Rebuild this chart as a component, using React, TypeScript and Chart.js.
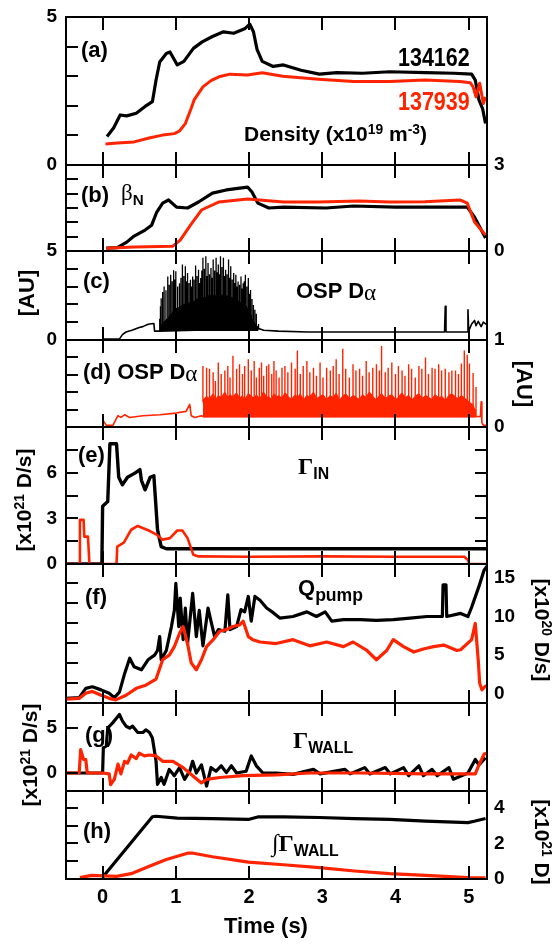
import React, { useEffect, useRef } from 'react';
import { Chart, registerables } from 'chart.js';

Chart.register(...registerables);

const W = 556;
const H = 945;
const PLOT_LEFT = 66;
const PLOT_RIGHT = 487;
const PAD = 24;
const BLACK = '#000000';
const RED = '#ff2400';
const SANS = "'Liberation Sans Narrow', 'Arial Narrow', 'Liberation Sans', Arial, sans-serif";
const SERIF = "'Liberation Serif', 'DejaVu Serif', serif";
const X_MIN = -0.5;
const X_MAX = 5.25;

// ---------------- data ----------------
const xTickValues = [0, 1, 2, 3, 4, 5];

// (a) density, 134162 (black) and 137939 (red)
const aBlackT = [0.06, 0.15, 0.24, 0.33, 0.46, 0.58, 0.68, 0.73, 0.78, 0.87, 0.92, 1.02, 1.11, 1.24, 1.36, 1.5, 1.65, 1.79, 1.94, 2.01, 2.06, 2.11, 2.18, 2.33, 2.47, 2.71, 2.96, 3.2, 3.55, 3.92, 4.41, 4.8, 5.04, 5.09, 5.14, 5.19, 5.23];
const aBlackV = [0.96, 1.25, 1.69, 1.66, 1.75, 1.98, 2.14, 2.87, 3.48, 3.77, 3.82, 3.38, 3.5, 3.94, 4.16, 4.34, 4.5, 4.45, 4.6, 4.76, 4.5, 3.9, 3.5, 3.33, 3.38, 3.2, 3.07, 3.12, 3.1, 3.15, 3.12, 3.1, 3.07, 2.87, 2.2, 1.9, 1.4];
const aRedT = [0.04, 0.2, 0.43, 0.65, 0.82, 0.98, 1.05, 1.13, 1.2, 1.25, 1.37, 1.48, 1.59, 1.74, 1.98, 2.18, 2.46, 2.95, 3.43, 3.92, 4.4, 4.88, 5.02, 5.06, 5.1, 5.15, 5.2, 5.23];
const aRedV = [0.71, 0.74, 0.78, 0.92, 1.01, 1.06, 1.15, 1.4, 1.85, 2.2, 2.64, 2.85, 2.98, 3.07, 3.04, 3.12, 3.0, 2.9, 2.82, 2.82, 2.87, 2.82, 2.78, 2.64, 2.3, 2.76, 2.08, 2.3];
const aLabelsL = [0, 5];
const aMarks = [1, 2, 3, 4];

// (b) beta_N
const bBlackT = [0.05, 0.2, 0.33, 0.43, 0.58, 0.67, 0.74, 0.82, 0.9, 1.01, 1.16, 1.31, 1.5, 1.69, 1.98, 2.04, 2.12, 2.27, 2.47, 3.05, 3.43, 4.0, 4.4, 4.98, 5.08, 5.23];
const bBlackV = [0.1, 0.12, 0.31, 0.52, 0.73, 0.9, 1.36, 1.67, 1.78, 1.53, 1.5, 1.71, 2.02, 2.13, 2.23, 2.06, 1.67, 1.5, 1.53, 1.5, 1.57, 1.53, 1.53, 1.53, 1.18, 0.45];
const bRedT = [0.05, 0.43, 0.96, 1.06, 1.2, 1.35, 1.59, 1.98, 2.47, 2.95, 3.5, 3.92, 4.4, 4.88, 4.98, 5.08, 5.23];
const bRedV = [0.1, 0.14, 0.17, 0.38, 0.9, 1.43, 1.71, 1.81, 1.71, 1.71, 1.74, 1.71, 1.72, 1.78, 1.67, 1.01, 0.56];
const bLabelsR = [0, 3];
const bMarks = [0.5, 1, 1.5, 2, 2.5];

// (c) OSP D-alpha, 134162
const cLineT = [0.0, 0.23, 0.27, 0.32, 0.4, 0.5, 0.55, 0.6, 0.64, 0.7, 0.71, 0.77, 2.13, 2.2, 2.4, 2.8, 3.2, 3.6, 4.0, 4.4, 4.67, 4.68, 4.69, 4.98, 4.99, 5.0, 5.04, 5.08, 5.1, 5.13, 5.17, 5.2, 5.25];
const cLineV = [0.05, 0.05, 0.3, 0.45, 0.55, 0.7, 0.75, 0.85, 0.9, 0.93, 0.5, 0.5, 0.65, 0.55, 0.5, 0.45, 0.45, 0.45, 0.45, 0.45, 0.45, 1.9, 0.45, 0.45, 1.7, 0.5, 0.9, 1.1, 0.8, 1.05, 0.75, 1.0, 0.85];
const cElmT = [0.78, 0.79, 0.8, 0.82, 0.84, 0.865, 0.89, 0.91, 0.93, 0.95, 0.97, 0.985, 1.0, 1.025, 1.05, 1.07, 1.09, 1.11, 1.13, 1.145, 1.16, 1.18, 1.2, 1.215, 1.23, 1.25, 1.27, 1.29, 1.31, 1.325, 1.34, 1.355, 1.37, 1.39, 1.41, 1.425, 1.44, 1.46, 1.48, 1.495, 1.51, 1.53, 1.55, 1.565, 1.58, 1.595, 1.61, 1.63, 1.65, 1.665, 1.68, 1.7, 1.72, 1.735, 1.75, 1.77, 1.79, 1.805, 1.82, 1.835, 1.85, 1.87, 1.89, 1.905, 1.92, 1.935, 1.95, 1.97, 1.99, 2.005, 2.02, 2.04, 2.06, 2.08, 2.1, 2.13];
const cElmPeak = [1.2, 1.9, 2.34, 2.7, 3.0, 2.8, 3.57, 3.1, 3.67, 3.3, 3.92, 3.4, 3.86, 3.0, 3.19, 3.5, 4.24, 3.6, 4.14, 3.3, 3.76, 3.2, 3.38, 3.0, 3.57, 3.4, 4.18, 3.6, 3.95, 3.2, 3.48, 3.9, 4.62, 4.0, 4.71, 3.6, 4.33, 3.7, 4.05, 3.5, 4.52, 3.9, 4.62, 3.8, 4.24, 3.7, 4.71, 4.1, 4.62, 3.6, 3.95, 3.7, 4.52, 3.5, 4.14, 3.4, 3.76, 3.2, 3.67, 3.0, 3.29, 3.1, 3.57, 2.9, 3.19, 3.3, 3.67, 3.0, 3.48, 2.6, 2.81, 2.3, 1.96, 1.7, 1.48, 0.9];
const cElmBase = [0.6, 0.7, 0.8, 0.9, 1.0, 1.1, 1.2, 1.3, 1.4, 1.5, 1.6, 1.6, 1.7, 1.8, 1.8, 1.9, 1.9, 2.0, 2.0, 2.1, 2.1, 2.0, 2.1, 2.2, 2.2, 2.1, 2.2, 2.3, 2.3, 2.2, 2.3, 2.4, 2.4, 2.3, 2.4, 2.5, 2.4, 2.5, 2.4, 2.5, 2.5, 2.4, 2.5, 2.5, 2.5, 2.4, 2.5, 2.5, 2.5, 2.4, 2.5, 2.4, 2.5, 2.4, 2.4, 2.3, 2.4, 2.3, 2.3, 2.2, 2.2, 2.1, 2.1, 2.0, 2.0, 1.9, 1.9, 1.8, 1.7, 1.5, 1.4, 1.2, 1.0, 0.9, 0.8, 0.65];
const cLabelsL = [0, 5];
const cMarks = [1, 2, 3, 4];

// (d) OSP D-alpha, 137939
const dLineT = [0.0, 0.01, 0.05, 0.14, 0.21, 0.25, 0.3, 0.37, 0.55, 0.78, 1.0, 1.14, 1.19, 1.21, 1.26, 1.35, 1.37, 5.1, 5.12, 5.16, 5.17, 5.18, 5.2, 5.25];
const dLineV = [0.0, 0.07, 0.02, 0.02, 0.13, 0.11, 0.14, 0.11, 0.13, 0.14, 0.16, 0.18, 0.26, 0.13, 0.11, 0.13, 0.12, 0.12, 0.12, 0.12, 0.29, 0.05, 0.02, 0.02];
const dElmT = [1.37, 1.42, 1.46, 1.51, 1.54, 1.58, 1.62, 1.67, 1.71, 1.74, 1.78, 1.83, 1.87, 1.91, 1.94, 1.99, 2.03, 2.07, 2.1, 2.14, 2.17, 2.2, 2.24, 2.27, 2.31, 2.34, 2.37, 2.41, 2.45, 2.49, 2.53, 2.58, 2.63, 2.66, 2.7, 2.74, 2.79, 2.83, 2.88, 2.92, 2.97, 3.01, 3.06, 3.11, 3.15, 3.19, 3.23, 3.28, 3.32, 3.37, 3.42, 3.46, 3.51, 3.55, 3.6, 3.64, 3.69, 3.74, 3.78, 3.81, 3.86, 3.9, 3.95, 4.0, 4.04, 4.09, 4.13, 4.18, 4.22, 4.27, 4.32, 4.36, 4.41, 4.45, 4.5, 4.54, 4.59, 4.63, 4.68, 4.73, 4.77, 4.82, 4.86, 4.9, 4.94, 4.98, 5.01, 5.06, 5.1];
const dElmPeak = [0.7, 0.68, 0.67, 0.63, 0.53, 0.74, 0.61, 0.65, 0.7, 0.57, 0.82, 0.67, 0.72, 0.61, 0.7, 0.78, 0.65, 0.76, 0.57, 0.68, 0.74, 0.59, 0.7, 0.72, 0.61, 0.76, 0.65, 0.57, 0.68, 0.7, 0.63, 0.74, 0.67, 0.88, 0.61, 0.7, 0.76, 0.63, 0.68, 0.59, 0.74, 0.57, 0.68, 0.65, 0.7, 0.78, 0.61, 0.9, 0.67, 0.57, 0.72, 0.65, 0.67, 0.59, 0.76, 0.63, 0.68, 0.72, 0.65, 0.93, 0.63, 0.68, 0.74, 0.61, 0.7, 0.65, 0.59, 0.72, 0.67, 0.57, 0.7, 0.67, 0.8, 0.61, 0.68, 0.67, 0.72, 0.65, 0.67, 0.63, 0.65, 0.65, 0.61, 0.73, 0.88, 0.83, 0.73, 0.62, 0.46];
const dElmBase = [0.3, 0.35, 0.32, 0.38, 0.3, 0.36, 0.33, 0.4, 0.31, 0.37, 0.34, 0.39, 0.32, 0.36, 0.3, 0.38, 0.35, 0.33, 0.37, 0.31, 0.36, 0.4, 0.33, 0.35, 0.3, 0.38, 0.34, 0.36, 0.32, 0.39, 0.35, 0.31, 0.37, 0.33, 0.38, 0.3, 0.36, 0.34, 0.4, 0.32, 0.35, 0.37, 0.31, 0.36, 0.33, 0.39, 0.3, 0.35, 0.38, 0.32, 0.36, 0.34, 0.31, 0.37, 0.33, 0.4, 0.35, 0.3, 0.36, 0.38, 0.32, 0.35, 0.37, 0.31, 0.34, 0.39, 0.33, 0.36, 0.3, 0.35, 0.38, 0.32, 0.36, 0.34, 0.31, 0.37, 0.33, 0.35, 0.3, 0.36, 0.38, 0.34, 0.32, 0.36, 0.33, 0.3, 0.28, 0.25, 0.15];
const dLabelsR = [0, 1];
const dMarks = [0.2, 0.4, 0.6, 0.8];

// (e) Gamma_IN
const eBlackT = [-0.5, -0.01, 0.0, 0.07, 0.1, 0.19, 0.22, 0.27, 0.34, 0.44, 0.51, 0.53, 0.58, 0.65, 0.7, 0.75, 0.8, 0.87, 2.0, 3.0, 4.0, 5.25];
const eBlackV = [0, 0, 3.8, 4.1, 7.9, 7.9, 5.7, 5.2, 5.7, 5.97, 6.2, 5.5, 4.87, 5.7, 5.8, 2.24, 1.14, 1.0, 1.0, 1.0, 1.0, 1.0];
const eRedT = [-0.5, -0.32, -0.31, -0.26, -0.25, -0.2, -0.18, 0.19, 0.2, 0.29, 0.39, 0.48, 0.63, 0.73, 0.82, 0.92, 1.02, 1.09, 1.16, 1.24, 1.31, 2.0, 3.0, 4.0, 4.94, 4.99, 5.01, 5.25];
const eRedV = [0, 0, 2.9, 2.9, 1.8, 1.8, 0, 0, 1.14, 1.4, 2.25, 2.5, 2.2, 1.95, 1.6, 1.7, 2.2, 2.2, 1.7, 0.6, 0.5, 0.48, 0.5, 0.48, 0.48, 0.26, 0, 0];
const eLabelsL = [0, 3, 6];
const eMarks = [1.5, 3, 4.5, 6, 7.5];

// (f) Q_pump
const fBlackT = [-0.5, -0.32, -0.23, -0.14, -0.02, 0.09, 0.16, 0.23, 0.3, 0.37, 0.43, 0.53, 0.62, 0.71, 0.75, 0.78, 0.8, 0.87, 0.94, 0.98, 1.0, 1.04, 1.06, 1.1, 1.13, 1.16, 1.23, 1.28, 1.32, 1.37, 1.44, 1.48, 1.53, 1.58, 1.67, 1.71, 1.74, 1.83, 1.89, 1.94, 1.99, 2.03, 2.08, 2.15, 2.24, 2.33, 2.42, 2.6, 2.79, 2.92, 3.04, 3.13, 3.29, 3.52, 3.74, 3.97, 4.2, 4.43, 4.61, 4.64, 4.65, 4.69, 4.7, 4.89, 4.99, 5.04, 5.14, 5.21, 5.25];
const fBlackV = [-0.6, -0.5, 0.7, 0.9, 0.5, 0.07, -0.5, 0.2, 2.6, 4.6, 3.5, 3.1, 4.4, 5.0, 5.6, 7.4, 4.4, 5.6, 8.7, 10.8, 14.3, 8.7, 12.4, 7.0, 11.1, 6.5, 13.0, 7.4, 10.8, 6.2, 11.1, 9.4, 7.4, 8.3, 8.1, 12.8, 8.3, 8.7, 10.9, 10.6, 12.6, 9.4, 12.6, 12.1, 11.1, 10.5, 9.8, 10.0, 10.6, 10.0, 10.6, 9.4, 9.6, 9.6, 9.5, 9.6, 9.8, 10.0, 10.0, 10.0, 14.1, 14.1, 10.0, 10.4, 10.0, 11.2, 13.9, 16.0, 16.5];
const fRedT = [-0.5, -0.32, -0.23, -0.14, -0.02, 0.09, 0.18, 0.32, 0.46, 0.59, 0.73, 0.82, 0.91, 0.98, 1.05, 1.1, 1.16, 1.21, 1.28, 1.35, 1.42, 1.51, 1.6, 1.69, 1.78, 1.87, 1.92, 1.99, 2.05, 2.15, 2.37, 2.6, 2.83, 3.06, 3.29, 3.42, 3.61, 3.74, 3.88, 3.97, 4.11, 4.25, 4.38, 4.52, 4.66, 4.84, 4.89, 5.04, 5.09, 5.13, 5.15, 5.18, 5.23, 5.25];
const fRedV = [-0.7, -0.6, 0.07, 0.3, -0.2, -0.6, -0.8, -0.2, 0.7, 1.1, 1.9, 4.4, 5.0, 6.1, 7.8, 8.7, 6.5, 4.0, 3.1, 4.4, 6.1, 7.0, 8.1, 8.3, 8.7, 8.9, 9.4, 7.4, 7.0, 6.7, 6.5, 7.0, 6.2, 6.7, 6.1, 6.7, 5.6, 4.4, 5.6, 7.0, 6.1, 5.4, 5.8, 6.1, 6.3, 5.6, 5.7, 7.0, 9.1, 4.4, 1.4, 0.5, 1.0, 1.0];
const fLabelsR = [0, 5, 10, 15];
const fMarks = [1.4, 4.0, 6.6, 9.2, 11.8, 14.3];

// (g) Gamma_WALL
const gBlackT = [-0.5, 0.0, 0.01, 0.05, 0.07, 0.14, 0.18, 0.23, 0.27, 0.32, 0.37, 0.41, 0.48, 0.55, 0.59, 0.64, 0.68, 0.73, 0.75, 0.8, 0.84, 0.91, 0.98, 1.05, 1.12, 1.19, 1.23, 1.28, 1.35, 1.42, 1.48, 1.55, 1.62, 1.69, 1.76, 1.83, 1.96, 2.03, 2.1, 2.19, 2.37, 2.6, 2.88, 2.97, 3.31, 3.38, 3.58, 3.65, 3.86, 3.93, 4.11, 4.18, 4.32, 4.38, 4.5, 4.57, 4.73, 4.79, 4.99, 5.09, 5.14, 5.23];
const gBlackV = [0, 0, 2.8, 3.0, 5.0, 5.6, 6.0, 6.5, 5.8, 5.2, 5.0, 5.2, 4.5, 4.5, 4.8, 4.5, 3.9, 1.3, -1.26, -0.5, -1.26, 0.4, -0.3, 0.6, -0.7, 0.2, 1.3, 0.0, 0.9, -1.45, 0.6, 0.2, 0.8, 0.04, 0.8, 0.0, 0.2, 1.9, 0.8, 0.0, 0.0, -0.15, 0.4, -0.1, 0.4, -0.1, 0.6, -0.1, 0.6, -0.1, 0.6, -0.3, 0.8, -0.3, 0.4, -0.3, 0.6, -0.7, 0.0, 1.5, 0.9, 1.7];
const gRedT = [-0.5, -0.32, -0.3, -0.26, -0.23, -0.21, 0.0, 0.09, 0.11, 0.16, 0.21, 0.25, 0.3, 0.34, 0.39, 0.46, 0.5, 0.57, 0.64, 0.73, 0.82, 0.96, 1.1, 1.23, 1.35, 1.42, 1.6, 1.92, 2.37, 2.83, 3.52, 4.43, 4.89, 5.09, 5.14, 5.21, 5.25];
const gRedV = [0, 0, 2.6, 1.5, 1.5, 0, 0, -0.1, -1.3, -0.7, 1.0, -0.1, 1.3, 1.1, 2.0, 1.6, 2.2, 1.9, 2.0, 1.9, 1.3, 1.3, 0.6, -0.3, -1.1, -0.7, -0.5, -0.3, -0.2, 0.0, 0.0, -0.1, -0.1, -0.1, 0.9, 2.1, 2.2];
const gLabelsL = [0, 5];
const gMarks = [0, 5];

// (h) integral of Gamma_WALL
const hBlackT = [0.0, 0.68, 0.73, 1.02, 1.5, 1.99, 2.13, 2.47, 2.96, 3.44, 3.92, 4.41, 4.99, 5.09, 5.23];
const hBlackV = [0.1, 3.5, 3.53, 3.42, 3.4, 3.35, 3.5, 3.5, 3.46, 3.4, 3.35, 3.26, 3.17, 3.26, 3.4];
const hRedT = [-0.31, -0.15, 0.19, 0.39, 0.63, 0.87, 1.16, 1.24, 1.5, 1.99, 2.47, 2.96, 3.44, 3.92, 4.41, 4.99, 5.23];
const hRedV = [0.08, 0.2, 0.15, 0.3, 0.7, 1.1, 1.45, 1.45, 1.25, 0.95, 0.8, 0.64, 0.45, 0.3, 0.2, 0.08, 0.06];
const hLabelsR = [0, 2, 4];
const hMarks = [1, 2, 3, 4];

// ---------------- helpers ----------------
type Pt = { x: number; y: number };
const pts = (t: number[], v: number[]): Pt[] => t.map((x, i) => ({ x, y: v[i] }));
const spikes = (t: number[], peak: number[], base: number[]): Pt[] => {
  const out: Pt[] = [];
  t.forEach((x, i) => {
    out.push({ x, y: base[i] }, { x, y: peak[i] }, { x, y: base[i] });
  });
  return out;
};

const ds = (data: Pt[], color: string, width: number, axis: string, order: number, extra: any = {}) => ({
  data,
  borderColor: color,
  backgroundColor: color,
  borderWidth: width,
  pointRadius: 0,
  tension: 0,
  fill: false,
  yAxisID: axis,
  order,
  borderJoinStyle: 'round',
  ...extra,
});

const framePlugin = {
  id: 'frame',
  afterDatasetsDraw(chart: any, _args: any, opts: any) {
    const { ctx, chartArea } = chart;
    const { left, right, top, bottom } = chartArea;
    ctx.save();
    ctx.strokeStyle = BLACK;
    ctx.lineWidth = 2;
    ctx.beginPath();
    const xs = chart.scales.x;
    for (const v of xTickValues) {
      const px = Math.round(xs.getPixelForValue(v));
      ctx.moveTo(px, top);
      ctx.lineTo(px, top + 13);
      ctx.moveTo(px, bottom);
      ctx.lineTo(px, bottom - 13);
    }
    if (opts.leftMarks) {
      const s = chart.scales[opts.leftMarks.axis];
      for (const v of opts.leftMarks.values) {
        const py = Math.round(s.getPixelForValue(v));
        ctx.moveTo(left, py);
        ctx.lineTo(left + 12, py);
      }
    }
    if (opts.rightMarks) {
      const s = chart.scales[opts.rightMarks.axis];
      for (const v of opts.rightMarks.values) {
        const py = Math.round(s.getPixelForValue(v));
        ctx.moveTo(right, py);
        ctx.lineTo(right - 12, py);
      }
    }
    ctx.stroke();
    ctx.strokeRect(left, top, right - left, bottom - top);
    ctx.restore();
  },
};

type AxisCfg = { min: number; max: number; labels: number[] };
type PanelCfg = {
  id: string;
  top: number;
  bottom: number;
  yl: AxisCfg;
  yr: AxisCfg;
  leftMarks?: { axis: string; values: number[] };
  rightMarks?: { axis: string; values: number[] };
  datasets: any[];
};

const buildPanels = (): PanelCfg[] => [
  {
    id: 'a', top: 17, bottom: 165,
    yl: { min: 0, max: 5, labels: aLabelsL }, yr: { min: 0, max: 5, labels: [] },
    leftMarks: { axis: 'yl', values: aMarks },
    datasets: [
      ds(pts(aRedT, aRedV), RED, 3, 'yl', 0),
      ds(pts(aBlackT, aBlackV), BLACK, 3.2, 'yl', 1),
    ],
  },
  {
    id: 'b', top: 165, bottom: 251,
    yl: { min: 0, max: 3, labels: [] }, yr: { min: 0, max: 3, labels: bLabelsR },
    leftMarks: { axis: 'yr', values: bMarks },
    datasets: [
      ds(pts(bRedT, bRedV), RED, 3, 'yr', 0),
      ds(pts(bBlackT, bBlackV), BLACK, 3.2, 'yr', 1),
    ],
  },
  {
    id: 'c', top: 251, bottom: 340,
    yl: { min: 0, max: 5, labels: cLabelsL }, yr: { min: 0, max: 5, labels: [] },
    leftMarks: { axis: 'yl', values: cMarks },
    datasets: [
      ds(spikes(cElmT, cElmPeak, cElmBase), BLACK, 1.3, 'yl', 0, { fill: { value: 0.5 }, borderJoinStyle: 'miter' }),
      ds(pts(cLineT, cLineV), BLACK, 1.6, 'yl', 1),
    ],
  },
  {
    id: 'd', top: 340, bottom: 427,
    yl: { min: 0, max: 1, labels: [] }, yr: { min: 0, max: 1, labels: dLabelsR },
    leftMarks: { axis: 'yr', values: dMarks },
    datasets: [
      ds(spikes(dElmT, dElmPeak, dElmBase), RED, 1.4, 'yr', 0, { fill: { value: 0.11 }, borderJoinStyle: 'miter' }),
      ds(pts(dLineT, dLineV), RED, 1.6, 'yr', 1),
    ],
  },
  {
    id: 'e', top: 427, bottom: 564,
    yl: { min: 0, max: 9, labels: eLabelsL }, yr: { min: 0, max: 9, labels: [] },
    leftMarks: { axis: 'yl', values: eMarks },
    rightMarks: { axis: 'yl', values: eMarks },
    datasets: [
      ds(pts(eRedT, eRedV), RED, 2.6, 'yl', 0),
      ds(pts(eBlackT, eBlackV), BLACK, 3.4, 'yl', 1),
    ],
  },
  {
    id: 'f', top: 564, bottom: 703,
    yl: { min: -1.2, max: 16.8, labels: [] }, yr: { min: -1.2, max: 16.8, labels: fLabelsR },
    leftMarks: { axis: 'yr', values: fMarks },
    datasets: [
      ds(pts(fRedT, fRedV), RED, 3.2, 'yr', 0),
      ds(pts(fBlackT, fBlackV), BLACK, 3.2, 'yr', 1),
    ],
  },
  {
    id: 'g', top: 703, bottom: 791,
    yl: { min: -2.0, max: 7.78, labels: gLabelsL }, yr: { min: -2.0, max: 7.78, labels: [] },
    leftMarks: { axis: 'yl', values: gMarks },
    datasets: [
      ds(pts(gRedT, gRedV), RED, 3.2, 'yl', 0),
      ds(pts(gBlackT, gBlackV), BLACK, 3.2, 'yl', 1),
    ],
  },
  {
    id: 'h', top: 791, bottom: 879,
    yl: { min: 0, max: 4.95, labels: [] }, yr: { min: 0, max: 4.95, labels: hLabelsR },
    leftMarks: { axis: 'yr', values: hMarks },
    datasets: [
      ds(pts(hRedT, hRedV), RED, 3.2, 'yr', 0),
      ds(pts(hBlackT, hBlackV), BLACK, 3.2, 'yr', 1),
    ],
  },
];

const tickFont = { family: SANS, size: 19, weight: 'bold' as const };

function PanelChart({ p, last }: { p: PanelCfg; last: boolean }) {
  const ref = useRef<HTMLCanvasElement>(null);
  const canvasTop = p.top - PAD;
  const canvasH = last ? H - canvasTop : p.bottom - p.top + 2 * PAD;

  useEffect(() => {
    const yAxis = (cfg: AxisCfg, pos: 'left' | 'right') => ({
      type: 'linear',
      position: pos,
      min: cfg.min,
      max: cfg.max,
      afterBuildTicks: (s: any) => {
        s.ticks = cfg.labels.map((v) => ({ value: v }));
      },
      afterFit: (s: any) => {
        s.width = pos === 'left' ? PLOT_LEFT : W - PLOT_RIGHT;
      },
      grid: { display: false, drawTicks: false },
      border: { display: false },
      ticks: {
        display: cfg.labels.length > 0,
        font: tickFont,
        color: BLACK,
        padding: pos === 'left' ? 9 : 7,
        callback: (v: any) => String(v),
      },
    });
    const chart = new Chart(ref.current as HTMLCanvasElement, {
      type: 'line',
      data: { datasets: p.datasets },
      options: {
        animation: false,
        responsive: false,
        devicePixelRatio: 1,
        events: [],
        layout: { padding: { top: PAD, bottom: last ? 0 : PAD, left: 0, right: 0 } },
        plugins: {
          legend: { display: false },
          tooltip: { enabled: false },
          frame: { leftMarks: p.leftMarks, rightMarks: p.rightMarks },
        } as any,
        scales: {
          x: {
            type: 'linear',
            min: X_MIN,
            max: X_MAX,
            display: last,
            afterBuildTicks: (s: any) => {
              s.ticks = xTickValues.map((v) => ({ value: v }));
            },
            afterFit: (s: any) => {
              if (last) s.height = H - p.bottom;
            },
            grid: { display: false, drawTicks: false },
            border: { display: false },
            ticks: { font: { family: SANS, size: 20, weight: 'bold' }, color: BLACK, padding: 6, maxRotation: 0, autoSkip: false, callback: (v: any) => String(v) },
          },
          yl: yAxis(p.yl, 'left'),
          yr: yAxis(p.yr, 'right'),
        } as any,
      },
      plugins: [framePlugin],
    } as any);
    return () => chart.destroy();
  }, []);

  return (
    <canvas
      ref={ref}
      width={W}
      height={canvasH}
      style={{ position: 'absolute', left: 0, top: canvasTop, width: W, height: canvasH }}
    />
  );
}

const Txt = ({ x, y, size, color = BLACK, family = SANS, weight = 700, sx = 1, children }: any) => (
  <div
    style={{
      position: 'absolute', left: x, top: y, transform: `translateY(-50%) scaleX(${sx})`, transformOrigin: 'left center',
      fontFamily: family, fontSize: size, fontWeight: weight, color, lineHeight: 1, whiteSpace: 'nowrap',
    }}
  >
    {children}
  </div>
);

const Rot = ({ cx, cy, angle, size, sx = 1, children }: any) => (
  <div
    style={{
      position: 'absolute', left: cx, top: cy, transform: `translate(-50%, -50%) rotate(${angle}deg) scaleX(${sx})`,
      fontFamily: SANS, fontSize: size, fontWeight: 700, color: BLACK, lineHeight: 1, whiteSpace: 'nowrap',
    }}
  >
    {children}
  </div>
);

const Sub = ({ children, size = '0.66em', family = SANS }: any) => (
  <span style={{ fontSize: size, position: 'relative', top: '0.32em', fontFamily: family, fontWeight: 700 }}>{children}</span>
);
const Sup = ({ children, size = '0.66em' }: any) => (
  <span style={{ fontSize: size, position: 'relative', top: '-0.5em' }}>{children}</span>
);
const Alpha = () => (
  <span style={{ fontFamily: SERIF, fontWeight: 400, fontSize: '1.05em', position: 'relative', top: '0.08em' }}>α</span>
);
const Gamma = () => <span style={{ fontFamily: SERIF, fontWeight: 700 }}>Γ</span>;

export default function App() {
  const panels = buildPanels();
  return (
    <div style={{ position: 'absolute', left: 0, top: 0, width: W, height: H, background: '#fff', overflow: 'hidden' }}>
      {panels.map((p, i) => (
        <PanelChart key={p.id} p={p} last={i === panels.length - 1} />
      ))}

      <Txt x={81} y={50} size={22}>(a)</Txt>
      <Txt x={398} y={57} size={25} sx={0.86}>134162</Txt>
      <Txt x={398} y={101} size={25} sx={0.86} color={RED}>137939</Txt>
      <Txt x={244} y={133} size={21}>
        Density (x10<Sup>19</Sup> m<Sup>-3</Sup>)
      </Txt>

      <Txt x={81} y={195} size={22}>(b)</Txt>
      <Txt x={121} y={192} size={23} weight={400}>
        <span style={{ fontFamily: SERIF }}>β</span>
        <Sub>N</Sub>
      </Txt>

      <Txt x={83} y={281} size={22}>(c)</Txt>
      <Txt x={296} y={291} size={22}>
        OSP D<Alpha />
      </Txt>

      <Txt x={83} y={372} size={22}>
        (d) OSP D<Alpha />
      </Txt>

      <Txt x={78} y={455} size={22}>(e)</Txt>
      <Txt x={298} y={466} size={24}>
        <Gamma />
        <Sub>IN</Sub>
      </Txt>

      <Txt x={85} y={597} size={22}>(f)</Txt>
      <Txt x={298} y={588} size={22}>
        Q<Sub size="0.8em">pump</Sub>
      </Txt>

      <Txt x={85} y={735} size={22}>(g)</Txt>
      <Txt x={293} y={740} size={24}>
        <Gamma />
        <Sub>WALL</Sub>
      </Txt>

      <Txt x={83} y={831} size={22}>(h)</Txt>
      <Txt x={272} y={843} size={24}>
        <span style={{ fontFamily: SERIF, fontWeight: 400 }}>∫</span>
        <Gamma />
        <Sub>WALL</Sub>
      </Txt>

      <Rot cx={27} cy={293} angle={-90} size={22}>[AU]</Rot>
      <Rot cx={524} cy={384} angle={90} size={22}>[AU]</Rot>
      <Rot cx={23} cy={500} angle={-90} size={21}>
        [x10<Sup>21</Sup> D/s]
      </Rot>
      <Rot cx={542} cy={630} angle={90} size={21}>
        [x10<Sup>20</Sup> D/s]
      </Rot>
      <Rot cx={29} cy={755} angle={-90} size={21}>
        [x10<Sup>21</Sup> D/s]
      </Rot>
      <Rot cx={542} cy={842} angle={90} size={21}>
        [x10<Sup>21</Sup> D]
      </Rot>

      <Txt x={224} y={926} size={22}>Time (s)</Txt>
    </div>
  );
}
